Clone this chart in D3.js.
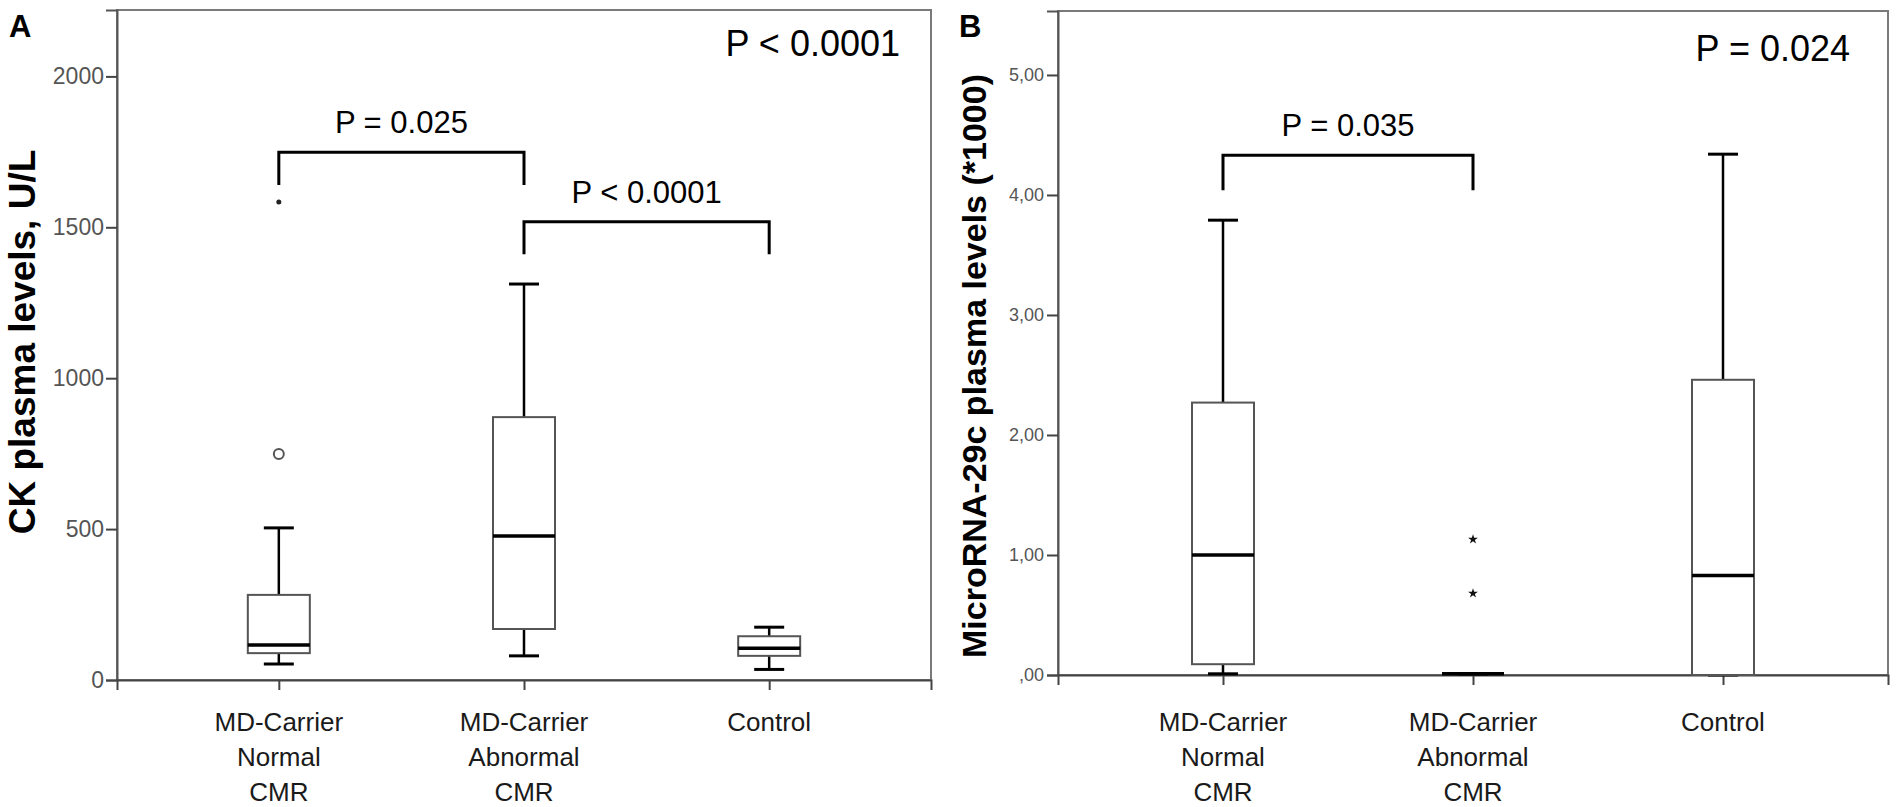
<!DOCTYPE html>
<html>
<head>
<meta charset="utf-8">
<script src="https://cdn.jsdelivr.net/npm/d3@7"></script>
<style>
  body { margin: 0; background: #fff; }
  text { font-family: "Liberation Sans", Arial, sans-serif; }
</style>
</head>
<body>
<div id="chart"></div>
<script>
// groups on the x axis (same for both panels)
const groupKeys = ["normal", "abnormal", "control"];
const groupLabels = [["MD-Carrier", "Normal", "CMR"], ["MD-Carrier", "Abnormal", "CMR"], ["Control"]];

// panel A: CK plasma levels, U/L
const ckLower  = [53, 80, 35];
const ckQ1     = [89, 169, 80];
const ckMedian = [116, 477, 105];
const ckQ3     = [282, 871, 145];
const ckUpper  = [504, 1312, 175];
const ckOutliers = [
  {group: "normal", value: 749, kind: "circle"},
  {group: "normal", value: 1584, kind: "dot"}
];
const ckTicks = [0, 500, 1000, 1500, 2000];
const ckTickLabels = ["0", "500", "1000", "1500", "2000"];
const ckBrackets = [
  {from: "normal", to: "abnormal", top: 1749, leg: 1640, label: "P = 0.025"},
  {from: "abnormal", to: "control", top: 1518, leg: 1411, label: "P < 0.0001"}
];

// panel B: MicroRNA-29c plasma levels (*1000)
const mirLower  = [0.01, 0.01, 0.0];
const mirQ1     = [0.09, 0.01, 0.0];
const mirMedian = [1.0, 0.01, 0.83];
const mirQ3     = [2.27, 0.01, 2.46];
const mirUpper  = [3.79, 0.01, 4.34];
const mirOutliers = [
  {group: "abnormal", value: 1.13, kind: "star"},
  {group: "abnormal", value: 0.68, kind: "star"}
];
const mirTicks = [0, 1, 2, 3, 4, 5];
const mirTickLabels = [",00", "1,00", "2,00", "3,00", "4,00", "5,00"];
const mirBrackets = [
  {from: "normal", to: "abnormal", top: 4.33, leg: 4.04, label: "P = 0.035"}
];

const svg = d3.select("#chart").append("svg")
  .attr("width", 1900)
  .attr("height", 807);

function drawPanel(p) {
  const g = svg.append("g");

  const x = d3.scalePoint()
    .domain(groupKeys)
    .range([p.left, p.right])
    .padding(0.66);

  const y = d3.scaleLinear()
    .domain([0, p.yMax])
    .range([p.bottom, p.top]);

  const boxes = groupKeys.map((k, i) => ({
    key: k, lower: p.lower[i], q1: p.q1[i], median: p.median[i], q3: p.q3[i], upper: p.upper[i]
  }));

  // frame
  g.append("rect")
    .attr("x", p.left).attr("y", p.top)
    .attr("width", p.right - p.left).attr("height", p.bottom - p.top)
    .attr("fill", "none").attr("stroke", "#7a7a7a").attr("stroke-width", 2);

  // y axis
  const yAxis = g.append("g")
    .attr("transform", `translate(${p.left},0)`)
    .call(d3.axisLeft(y)
      .tickValues(p.ticks)
      .tickFormat((d, i) => p.tickLabels[i])
      .tickSize(11)
      .tickPadding(p.tickPad));
  yAxis.select(".domain").attr("stroke", "#555").attr("stroke-width", 2);
  yAxis.selectAll(".tick line").attr("stroke", "#444").attr("stroke-width", 2);
  yAxis.selectAll(".tick text")
    .attr("fill", "#555")
    .style("font-size", p.tickFont + "px");

  // x axis
  const xAxis = g.append("g")
    .attr("transform", `translate(0,${p.bottom})`)
    .call(d3.axisBottom(x).tickSize(10).tickFormat(""));
  xAxis.select(".domain").attr("stroke", "#444").attr("stroke-width", 2);
  xAxis.selectAll(".tick line").attr("stroke", "#444").attr("stroke-width", 2);

  groupKeys.forEach((k, i) => {
    const t = g.append("text")
      .attr("text-anchor", "middle")
      .attr("fill", "#1a1a1a")
      .style("font-size", "26px");
    groupLabels[i].forEach((line, j) => {
      t.append("tspan")
        .attr("x", x(k))
        .attr("y", 731 + j * 35)
        .text(line);
    });
  });

  // y axis title
  g.append("text")
    .attr("transform", `translate(${p.titleX},${p.titleY}) rotate(-90)`)
    .attr("text-anchor", "middle")
    .attr("dy", "0.35em")
    .style("font-size", p.titleFont + "px")
    .style("font-weight", "bold")
    .attr("fill", "#000")
    .text(p.title);

  // panel letter
  g.append("text")
    .attr("x", p.letterX).attr("y", 37)
    .style("font-size", "31px")
    .style("font-weight", "bold")
    .text(p.letter);

  const boxW = 62, capW = 30;

  // whiskers
  g.selectAll(".whisker")
    .data(boxes)
    .join("line")
    .attr("x1", d => x(d.key)).attr("x2", d => x(d.key))
    .attr("y1", d => y(d.upper)).attr("y2", d => y(d.lower))
    .attr("stroke", "#000").attr("stroke-width", 2.5);

  ["upper", "lower"].forEach(end => {
    g.selectAll(".cap-" + end)
      .data(boxes)
      .join("line")
      .attr("x1", d => x(d.key) - capW / 2).attr("x2", d => x(d.key) + capW / 2)
      .attr("y1", d => y(d[end])).attr("y2", d => y(d[end]))
      .attr("stroke", "#000").attr("stroke-width", 3);
  });

  // boxes
  g.selectAll(".box")
    .data(boxes)
    .join("rect")
    .attr("x", d => x(d.key) - boxW / 2)
    .attr("y", d => y(d.q3))
    .attr("width", boxW)
    .attr("height", d => Math.max(0, y(d.q1) - y(d.q3)))
    .attr("fill", "#fff")
    .attr("stroke", "#555")
    .attr("stroke-width", 2);

  // medians
  g.selectAll(".median")
    .data(boxes)
    .join("line")
    .attr("x1", d => x(d.key) - boxW / 2).attr("x2", d => x(d.key) + boxW / 2)
    .attr("y1", d => y(d.median)).attr("y2", d => y(d.median))
    .attr("stroke", "#000").attr("stroke-width", 3.5);

  // outliers
  p.outliers.forEach(o => {
    if (o.kind === "circle") {
      g.append("circle")
        .attr("cx", x(o.group)).attr("cy", y(o.value)).attr("r", 5)
        .attr("fill", "none").attr("stroke", "#555").attr("stroke-width", 2);
    } else if (o.kind === "dot") {
      g.append("circle")
        .attr("cx", x(o.group)).attr("cy", y(o.value)).attr("r", 2.5)
        .attr("fill", "#222");
    } else {
      g.append("path")
        .attr("transform", `translate(${x(o.group)},${y(o.value)})`)
        .attr("d", d3.symbol(d3.symbolStar).size(30)())
        .attr("fill", "#111");
    }
  });

  // significance brackets
  p.brackets.forEach(b => {
    const x1 = x(b.from), x2 = x(b.to);
    g.append("path")
      .attr("d", `M${x1},${y(b.leg)}V${y(b.top)}H${x2}V${y(b.leg)}`)
      .attr("fill", "none").attr("stroke", "#000").attr("stroke-width", 3);
    g.append("text")
      .attr("x", (x1 + x2) / 2).attr("y", y(b.top) - 19)
      .attr("text-anchor", "middle")
      .style("font-size", "31px")
      .text(b.label);
  });

  // overall p value
  g.append("text")
    .attr("x", p.right - p.pInset).attr("y", p.pY)
    .attr("text-anchor", "end")
    .style("font-size", "36px")
    .text(p.pLabel);
}

drawPanel({
  left: 117, right: 931, top: 10, bottom: 680, yMax: 2220,
  lower: ckLower, q1: ckQ1, median: ckMedian, q3: ckQ3, upper: ckUpper,
  outliers: ckOutliers, brackets: ckBrackets,
  ticks: ckTicks, tickLabels: ckTickLabels, tickFont: 23, tickPad: 2,
  title: "CK plasma levels, U/L", titleX: 22, titleY: 342, titleFont: 37,
  letter: "A", letterX: 9,
  pLabel: "P < 0.0001", pInset: 31, pY: 56
});

drawPanel({
  left: 1058, right: 1888, top: 11, bottom: 675, yMax: 5.533,
  lower: mirLower, q1: mirQ1, median: mirMedian, q3: mirQ3, upper: mirUpper,
  outliers: mirOutliers, brackets: mirBrackets,
  ticks: mirTicks, tickLabels: mirTickLabels, tickFont: 18, tickPad: 3,
  title: "MicroRNA-29c  plasma levels (*1000)", titleX: 974, titleY: 366, titleFont: 34,
  letter: "B", letterX: 959,
  pLabel: "P = 0.024", pInset: 38, pY: 61
});
</script>
</body>
</html>
